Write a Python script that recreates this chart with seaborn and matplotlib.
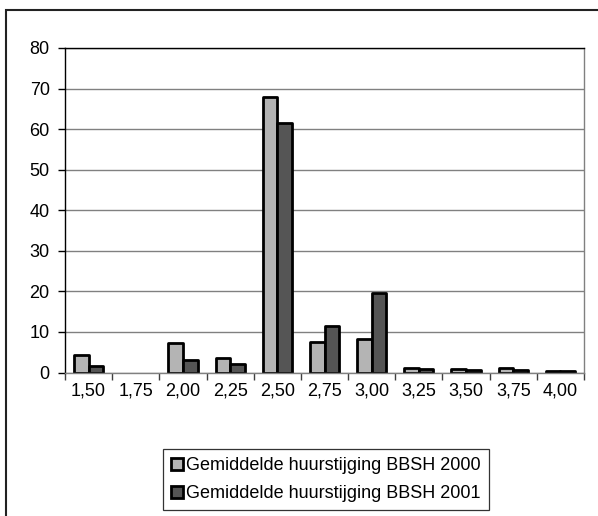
import matplotlib
matplotlib.use("Agg")
import matplotlib.pyplot as plt
from matplotlib.patches import Rectangle
from matplotlib.ticker import FixedLocator
import numpy as np
import pandas as pd
import seaborn as sns

# Rent increase classes (percent) and share of complexes per class
categories = ["1,50", "1,75", "2,00", "2,25", "2,50", "2,75", "3,00", "3,25", "3,50", "3,75", "4,00"]
values_2000 = [4.4, 0.0, 7.2, 3.6, 68.0, 7.4, 8.2, 1.2, 0.8, 1.0, 0.4]
values_2001 = [1.6, 0.0, 3.2, 2.2, 61.4, 11.5, 19.7, 0.9, 0.7, 0.5, 0.4]
series_names = ["Gemiddelde huurstijging BBSH 2000", "Gemiddelde huurstijging BBSH 2001"]
y_ticks = [0, 10, 20, 30, 40, 50, 60, 70, 80]

df = pd.DataFrame({
    "klasse": categories * 2,
    "percentage": values_2000 + values_2001,
    "reeks": [series_names[0]] * len(categories) + [series_names[1]] * len(categories),
})

sns.set_theme(style="white")
plt.rcParams["font.family"] = ["Liberation Sans", "DejaVu Sans"]

fig = plt.figure(figsize=(5.98, 5.16), dpi=100)
ax = fig.add_axes([65 / 598, 1 - 372.5 / 516, (584 - 65) / 598, (372.5 - 48) / 516])

sns.barplot(
    data=df, x="klasse", y="percentage", hue="reeks", order=categories,
    hue_order=series_names, palette=["#b4b4b4", "#555555"],
    width=0.62, edgecolor="black", linewidth=2.0, ax=ax, legend=True,
)

# empty classes get no visible bar outline
for container in ax.containers:
    for bar in container:
        bar.set_joinstyle("round")
        if bar.get_height() == 0:
            bar.set_visible(False)

ax.set_ylim(0, 80)
ax.set_xlim(-0.5, len(categories) - 0.5)
ax.set_yticks(y_ticks)
ax.set_xlabel("")
ax.set_ylabel("")

# gridlines
ax.yaxis.grid(True, color="#808080", linewidth=1.0)
ax.set_axisbelow(True)

# spines
ax.spines["left"].set_color("black")
ax.spines["left"].set_linewidth(1.0)
ax.spines["top"].set_color("black")
ax.spines["top"].set_linewidth(1.0)
ax.spines["right"].set_color("#808080")
ax.spines["right"].set_linewidth(1.0)
ax.spines["bottom"].set_color("#808080")
ax.spines["bottom"].set_linewidth(1.0)

# ticks: y ticks out, x tick marks between categories
ax.tick_params(axis="y", which="major", direction="out", length=5, width=1,
               color="black", labelsize=13, pad=6, left=True)
ax.tick_params(axis="x", which="major", length=0, labelsize=13, pad=7)
ax.xaxis.set_minor_locator(FixedLocator(np.arange(-0.5, len(categories), 1.0)))
ax.tick_params(axis="x", which="minor", direction="out", length=5, width=1,
               color="#404040", bottom=True)
for lab in ax.get_xticklabels() + ax.get_yticklabels():
    lab.set_color("black")

# legend below the chart
handles, labels = ax.get_legend_handles_labels()
ax.get_legend().remove()
leg = fig.legend(
    handles, labels, loc="center", bbox_to_anchor=(326 / 598, 1 - 479.5 / 516),
    frameon=True, fancybox=False, edgecolor="black", fontsize=13,
    handlelength=0.65, handleheight=0.65, handletextpad=0.15, labelspacing=0.6,
    borderpad=0.45, borderaxespad=0,
)
leg.get_frame().set_linewidth(0.9)
for t in leg.get_texts():
    t.set_color("black")

# chart area border
fig.add_artist(Rectangle((5.5 / 598, -0.1), 1.0, 1 - 10 / 516 + 0.1,
                         transform=fig.transFigure, fill=False,
                         edgecolor="#222222", linewidth=1.5))

fig.savefig("out.png", dpi=100)
